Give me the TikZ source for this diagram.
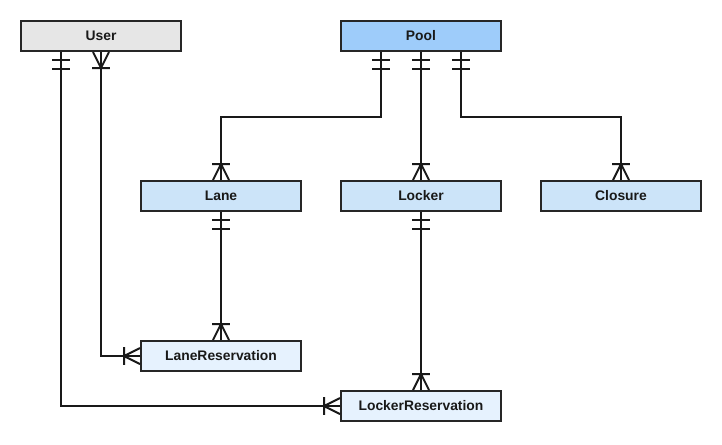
\documentclass[tikz,border=0pt]{standalone}
\usepackage{fontspec}
\setmainfont{Liberation Sans}
\usepackage{tikz}
\usetikzlibrary{arrows.meta,positioning,calc}
\definecolor{usergray}{RGB}{230,230,230}
\definecolor{poolblue}{RGB}{158,204,250}
\definecolor{entityblue}{RGB}{204,228,249}
\definecolor{resblue}{RGB}{230,242,254}
\definecolor{edgegray}{RGB}{38,38,38}

% one-or-many: crow's foot with a bar
\pgfdeclarearrow{
  name = OneMany,
  setup code = {
    \pgfarrowssettipend{0pt}
    \pgfarrowssetlineend{0pt}
    \pgfarrowssetbackend{-12.75pt}
    \pgfarrowshullpoint{0pt}{6pt}
    \pgfarrowshullpoint{0pt}{-6pt}
    \pgfarrowshullpoint{-12.75pt}{0pt}
  },
  drawing code = {
    \pgfsetdash{}{0pt}
    \pgfsetmiterjoin
    \pgfpathmoveto{\pgfqpoint{0pt}{6pt}}
    \pgfpathlineto{\pgfqpoint{-12pt}{0pt}}
    \pgfpathlineto{\pgfqpoint{0pt}{-6pt}}
    \pgfpathmoveto{\pgfqpoint{-12pt}{6.6pt}}
    \pgfpathlineto{\pgfqpoint{-12pt}{-6.6pt}}
    \pgfusepathqstroke
  }
}
% one and only one: two bars
\pgfdeclarearrow{
  name = OnlyOne,
  setup code = {
    \pgfarrowssettipend{0pt}
    \pgfarrowssetlineend{0pt}
    \pgfarrowssetbackend{-13.5pt}
    \pgfarrowshullpoint{0pt}{0pt}
    \pgfarrowshullpoint{-13.5pt}{0pt}
  },
  drawing code = {
    \pgfsetdash{}{0pt}
    \pgfpathmoveto{\pgfqpoint{-6pt}{6.4pt}}
    \pgfpathlineto{\pgfqpoint{-6pt}{-6.4pt}}
    \pgfpathmoveto{\pgfqpoint{-12.75pt}{6.4pt}}
    \pgfpathlineto{\pgfqpoint{-12.75pt}{-6.4pt}}
    \pgfusepathqstroke
  }
}

\tikzset{
  entity/.style={draw=edgegray, line width=1.5pt, minimum width=120pt,
    minimum height=22.5pt, inner sep=0pt, text=black!90,
    text height=7.6pt, text depth=1.6pt,
    font=\fontsize{10.4}{12}\selectfont\bfseries},
  relation/.style={draw=black!90, line width=1.5pt},
}

\begin{document}
\begin{tikzpicture}[x=0.75pt, y=-0.75pt]
  \useasboundingbox (0,0) rectangle (722,444);
  % entities
  \node[entity, fill=usergray] (user) at (101,36) {User};
  \node[entity, fill=poolblue] (pool) at (421,36) {Pool};
  \node[entity, fill=entityblue] (lane) at (221,196) {Lane};
  \node[entity, fill=entityblue] (locker) at (421,196) {Locker};
  \node[entity, fill=entityblue] (closure) at (621,196) {Closure};
  \node[entity, fill=resblue] (laneres) at (221,356) {LaneReservation};
  \node[entity, fill=resblue] (lockerres) at (421,406) {LockerReservation};
  % relations
  \draw[relation, {OneMany}-{OneMany}] (user.south) |- (laneres.west);
  \draw[relation, {OnlyOne}-{OneMany}] ([xshift=-30pt]user.south) |- (lockerres.west);
  \draw[relation, {OnlyOne}-{OneMany}] ([xshift=-30pt]pool.south) -- ++(0,65) -| (lane.north);
  \draw[relation, {OnlyOne}-{OneMany}] (pool.south) -- (locker.north);
  \draw[relation, {OnlyOne}-{OneMany}] ([xshift=30pt]pool.south) -- ++(0,65) -| (closure.north);
  \draw[relation, {OnlyOne}-{OneMany}] (lane.south) -- (laneres.north);
  \draw[relation, {OnlyOne}-{OneMany}] (locker.south) -- (lockerres.north);
\end{tikzpicture}
\end{document}
